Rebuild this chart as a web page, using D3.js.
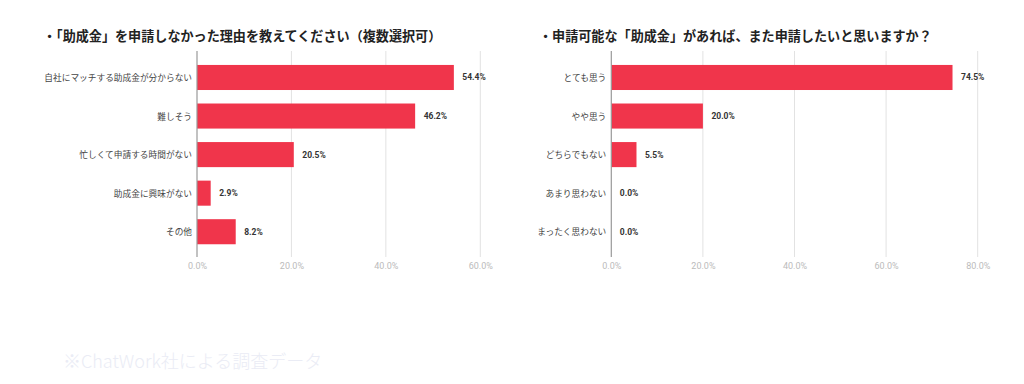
<!DOCTYPE html>
<html><head><meta charset="utf-8">
<script src="https://cdn.jsdelivr.net/npm/d3@7/dist/d3.min.js"></script>
<style>
html,body{margin:0;padding:0;background:#fff;}
svg{display:block;font-family:"Noto Sans CJK JP","Noto Sans",sans-serif;}
</style></head>
<body>
<svg id="c" width="1024" height="384"></svg>
<script>
const title1 = "・「助成金」を申請しなかった理由を教えてください（複数選択可）";
const cats1 = ["自社にマッチする助成金が分からない","難しそう","忙しくて申請する時間がない","助成金に興味がない","その他"];
const vals1 = [54.4, 46.2, 20.5, 2.9, 8.2];
const ticks1 = [0, 20, 40, 60];

const title2 = "・申請可能な「助成金」があれば、また申請したいと思いますか？";
const cats2 = ["とても思う","やや思う","どちらでもない","あまり思わない","まったく思わない"];
const vals2 = [74.5, 20.0, 5.5, 0.0, 0.0];
const ticks2 = [0, 20, 40, 60, 80];

const footer = "※ChatWork社による調査データ";

const svg = d3.select("#c");
const barColor = "#f0354b";

function drawChart(opt){
  const g = svg.append("g");
  g.append("text").attr("x", opt.titleX).attr("y", 35).attr("dominant-baseline","central")
    .attr("font-size", 13.1).attr("font-weight", "bold").attr("fill", "#222").text(opt.title);

  const x = d3.scaleLinear().domain([0, opt.max]).range([opt.x0, opt.x1]);
  const y = d3.scaleBand().domain(opt.cats).range([58.2, 251]).paddingInner(0.35).paddingOuter(0.175);

  // gridlines
  g.append("g").selectAll("line").data(opt.ticks.slice(1)).join("line")
    .attr("x1", d=>x(d)).attr("x2", d=>x(d)).attr("y1", 51).attr("y2", 257)
    .attr("stroke", "#e2e2e2").attr("stroke-width", 1);

  // tick labels via axis
  const ax = g.append("g").attr("transform", "translate(0,262)")
    .call(d3.axisBottom(x).tickValues(opt.ticks).tickFormat(d=>d.toFixed(1)+"%").tickSize(0).tickPadding(0));
  ax.select(".domain").remove();
  ax.selectAll("text").attr("font-size", 9).attr("fill", "#bbbbbb").attr("dy", "0.75em")
    .attr("font-family", "Roboto, 'Noto Sans', sans-serif");

  // bars
  g.append("g").selectAll("rect").data(opt.vals).join("rect")
    .attr("x", x(0)).attr("y", (d,i)=>y(opt.cats[i]))
    .attr("width", d=>x(d)-x(0)).attr("height", y.bandwidth())
    .attr("fill", barColor);

  // axis line
  g.append("line").attr("x1", x(0)).attr("x2", x(0)).attr("y1", 51).attr("y2", 257)
    .attr("stroke", "#999").attr("stroke-width", 1.2);

  // category labels
  g.append("g").selectAll("text").data(opt.cats).join("text")
    .attr("x", x(0)-5).attr("y", d=>y(d)+y.bandwidth()/2).attr("text-anchor","end")
    .attr("dominant-baseline","central").attr("font-size", 8.7).attr("fill", "#444").text(d=>d);

  // value labels
  g.append("g").selectAll("text").data(opt.vals).join("text")
    .attr("x", d=>x(d)+8.5).attr("y", (d,i)=>y(opt.cats[i])+y.bandwidth()/2)
    .attr("dominant-baseline","central").attr("font-size", 8.5).attr("font-weight","bold")
    .attr("font-family", "Roboto, 'Noto Sans', sans-serif")
    .attr("fill", "#333").text(d=>d.toFixed(1)+"%");
}

drawChart({title: title1, titleX: 43, cats: cats1, vals: vals1, ticks: ticks1, max: 60, x0: 197, x1: 480.3});
drawChart({title: title2, titleX: 539, cats: cats2, vals: vals2, ticks: ticks2, max: 80, x0: 611.3, x1: 977.7});

svg.append("text").attr("x", 63).attr("y", 360).attr("dominant-baseline","central")
  .attr("font-size", 18).attr("font-weight", 300).attr("fill", "#eaecf5").text(footer);
</script>
</body></html>
